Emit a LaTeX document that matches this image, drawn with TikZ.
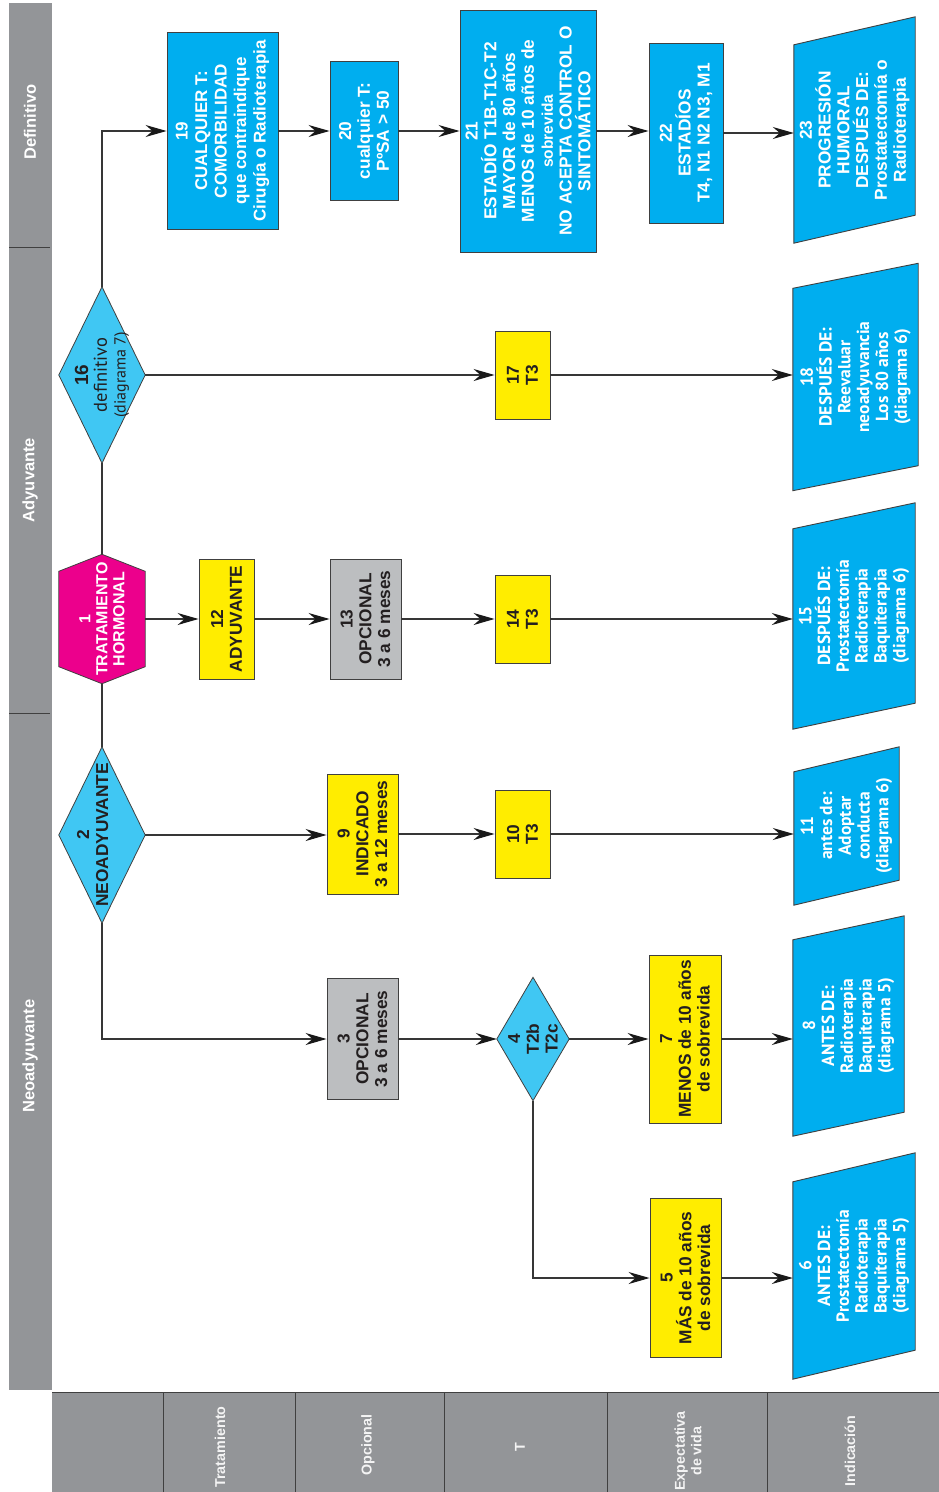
\documentclass[tikz,border=0pt]{standalone}
\usepackage{fontspec}
\setmainfont{Liberation Sans}
\newfontfamily\fa{Liberation Sans}
\newfontfamily\fb{PT Sans}
\usetikzlibrary{arrows.meta,calc}
\definecolor{cblue}{HTML}{00AEEF}
\definecolor{cdia}{HTML}{40C7F3}
\definecolor{cyel}{HTML}{FFED00}
\definecolor{cgry}{HTML}{BCBEC0}
\definecolor{cmag}{HTML}{EC008C}
\definecolor{cbar}{HTML}{939598}
\definecolor{cline}{HTML}{363636}
\definecolor{cedge}{HTML}{404040}
\definecolor{ctxt}{HTML}{231F20}
\definecolor{cbtx}{HTML}{F4F4F4}
\pgfdeclarelayer{bg}
\pgfsetlayers{bg,main}
\begin{document}
\begin{tikzpicture}[x=1pt,y=-1pt,
  base/.style={rotate=90, inner sep=0pt, align=center},
  wh/.style 2 args={minimum width=#2, minimum height=#1},
  tA/.style={font=\fa\bfseries\fontsize{17.3}{18.8}\selectfont},
  tB/.style={font=\fb\bfseries\fontsize{17.5}{18.8}\selectfont},
  rbox/.style={base, draw=cedge, line width=0.9pt},
  yel/.style={rbox, fill=cyel, text=ctxt, tA},
  gry/.style={rbox, fill=cgry, text=ctxt, tA},
  bluebox/.style={rbox, fill=cblue, text=white, tA},
  paraA/.style={base, text=white, tA},
  paraB/.style={base, text=white, tB},
  dia/.style={base, text=ctxt, tA},
  hexn/.style={base, text=white, tA, font=\fa\bfseries\fontsize{16}{17}\selectfont},
  paraS/.style={fill=cblue, draw=cedge, line width=0.9pt},
  diaS/.style={fill=cdia, draw=cedge, line width=0.8pt},
  hexS/.style={fill=cmag, draw=cedge, line width=0.8pt},
  ln/.style={draw=cline, line width=1.1pt},
  arr/.style={ln, -{Stealth[length=21pt,width=12pt,inset=7pt,color=black!90]}},
  barlab/.style={rotate=90, inner sep=0pt, text=white, font=\fa\bfseries\fontsize{16.5}{18}\selectfont},
  botlab/.style={rotate=90, inner sep=0pt, align=center, text=cbtx, font=\fa\bfseries\fontsize{14.3}{16.5}\selectfont},
  divl/.style={draw=cedge, line width=1pt}
]
\useasboundingbox (0,0) rectangle (939,1492);

% ---- side bars
\fill[cbar] (9,3) rectangle (52,1390);
\draw[divl] (9,247) -- (50,247);
\draw[divl] (9,713) -- (50,713);
\node[barlab] (lDef) at (30,122) {Definitivo};
\node[barlab] (lAdy) at (30,480) {Adyuvante};
\node[barlab] (lNeo) at (30,1056) {Neoadyuvante};

\fill[cbar] (52,1392) rectangle (939,1492);
\draw[divl] (52,1392) -- (939,1392);
\foreach \xx in {163,295,444,607,767} \draw[divl] (\xx,1392) -- (\xx,1492);
\node[botlab] (bTra) at (220,1447) {Tratamiento};
\node[botlab] (bOpc) at (368,1445) {Opcional};
\node[botlab] (bT) at (520,1447) {T};
\node[botlab] (bExp) at (688,1451) {Expectativa\\de vida};
\node[botlab] (bInd) at (850,1451) {Indicación};

% ---- row 19-23
\node[bluebox, wh={111}{197}, font=\fa\bfseries\fontsize{17}{19.5}\selectfont] (n19) at (222.5,131) {19\\CUALQUIER T:\\COMORBILIDAD\\que contraindique\\Cirugía o Radioterapia};
\node[bluebox, wh={68}{139}] (n20) at (364,131) {20\\cualquier T:\\PºSA > 50};
\node[bluebox, wh={136}{242}, font=\fa\bfseries\fontsize{17.3}{18.8}\selectfont] (n21) at (528,131) {21\\ESTADÍO T1B-T1C-T2\\MAYOR de 80 años\\MENOS de 10 años de\\{\fontsize{15.5}{16}\selectfont sobrevida}\\NO ACEPTA CONTROL O\\SINTOMÁTICO};
\node[bluebox, wh={74}{180}] (n22) at (686,133) {22\\ESTADÍOS\\T4, N1 N2 N3, M1};
\node[paraA, wh={121}{226}] (n23) at (854.5,130) {23\\PROGRESIÓN\\HUMORAL\\DESPUÉS DE:\\Prostatectomía o\\Radioterapia};

% ---- row 16-18
\node[dia, wh={86}{176}] (n16) at (102,375) {{\fontsize{19}{19}\selectfont 16}\\{\fb\mdseries\fontsize{18.5}{19}\selectfont definitivo}\\{\fb\mdseries\fontsize{16}{16}\selectfont (diagrama 7)}};
\node[yel, wh={55}{88}] (n17) at (522.5,375) {17\\T3};
\node[paraB, wh={125}{227}] (n18) at (855.5,377) {18\\DESPUÉS DE:\\Reevaluar\\neoadyuvancia\\Los 80 años\\(diagrama 6)};

% ---- row 1
\node[hexn, wh={86}{129}] (n1) at (102,619) {1\\TRATAMIENTO\\HORMONAL};
\node[yel, wh={55}{120}] (n12) at (226.5,619) {12\\ADYUVANTE};
\node[gry, wh={71}{120}] (n13) at (365.5,619) {13\\OPCIONAL\\3 a 6 meses};
\node[yel, wh={55}{88}] (n14) at (522.5,619) {14\\T3};
\node[paraB, wh={122}{226}] (n15) at (854,616) {15\\DESPUÉS DE:\\Prostatectomía\\Radioterapia\\Baquiterapia\\(diagrama 6)};

% ---- row 2
\node[dia, wh={86}{176}] (n2) at (102,835) {2\\NEOADYUVANTE\\\mbox{}};
\node[yel, wh={71}{120}] (n9) at (362.5,834) {9\\INDICADO\\3 a 12 meses};
\node[yel, wh={55}{88}] (n10) at (522.5,834) {10\\T3};
\node[paraB, wh={105}{158}] (n11) at (846.5,826) {11\\antes de:\\Adoptar\\conducta\\(diagrama 6)};

% ---- row 3
\node[gry, wh={71}{121}] (n3) at (362.5,1039) {3\\OPCIONAL\\3 a 6 meses};
\node[dia, wh={72}{123}] (n4) at (533,1039) {4\\T2b\\T2c};
\node[yel, wh={72}{168}] (n7) at (685,1039) {7\\MENOS de 10 años\\de sobrevida};
\node[paraB, wh={111}{220}] (n8) at (848.5,1026) {8\\ANTES DE:\\Radioterapia\\Baquiterapia\\(diagrama 5)};

% ---- row 4
\node[yel, wh={71}{159}] (n5) at (685.5,1278) {5\\MÁS de 10 años\\de sobrevida};
\node[paraB, wh={122}{226}] (n6) at (854,1266) {6\\ANTES DE:\\Prostatectomía\\Radioterapia\\Baquiterapia\\(diagrama 5)};

% ---- shapes behind text
\begin{pgfonlayer}{bg}
\foreach \n/\d in {n23/28,n18/25,n15/26,n11/25,n8/24,n6/29}{
  \path[paraS] ($(\n.north east)+(0,\d)$) -- (\n.north west) -- ($(\n.south west)+(0,-\d)$) -- (\n.south east) -- cycle;
}
\foreach \n in {n16,n2,n4}{
  \path[diaS] (\n.east) -- (\n.north) -- (\n.west) -- (\n.south) -- cycle;
}
\path[hexS] (n1.east) -- ($(n1.north east)+(0,17)$) -- ($(n1.north west)+(0,-17)$) -- (n1.west) -- ($(n1.south west)+(0,-17)$) -- ($(n1.south east)+(0,17)$) -- cycle;
\end{pgfonlayer}

% ---- connectors
\draw[arr] (n16.east) |- (n19.north);
\draw[arr] (n19.south) -- (n19.south -| n20.north);
\draw[arr] (n20.south) -- (n20.south -| n21.north);
\draw[arr] (n21.south) -- (n21.south -| n22.north);
\draw[arr] (n22.south) -- (n22.south -| n23.north);

\draw[ln] (n16.west) -- (n1.east);
\draw[ln] (n1.west) -- (n2.east);
\draw[arr] (n16.south) -- (n16.south -| n17.north);
\draw[arr] (n17.south) -- (n17.south -| n18.north);

\draw[arr] (n1.south) -- (n1.south -| n12.north);
\draw[arr] (n12.south) -- (n12.south -| n13.north);
\draw[arr] (n13.south) -- (n13.south -| n14.north);
\draw[arr] (n14.south) -- (n14.south -| n15.north);

\draw[arr] (n2.south) -- (n2.south -| n9.north);
\draw[arr] (n9.south) -- (n9.south -| n10.north);
\draw[arr] (n10.south) -- (n10.south -| n11.north);

\draw[arr] (n2.west) |- (n3.north);
\draw[arr] (n3.south) -- (n3.south -| n4.north);
\draw[arr] (n4.south) -- (n4.south -| n7.north);
\draw[arr] (n7.south) -- (n7.south -| n8.north);

\draw[arr] (n4.west) |- (n5.north);
\draw[arr] (n5.south) -- (n5.south -| n6.north);
\end{tikzpicture}
\end{document}
